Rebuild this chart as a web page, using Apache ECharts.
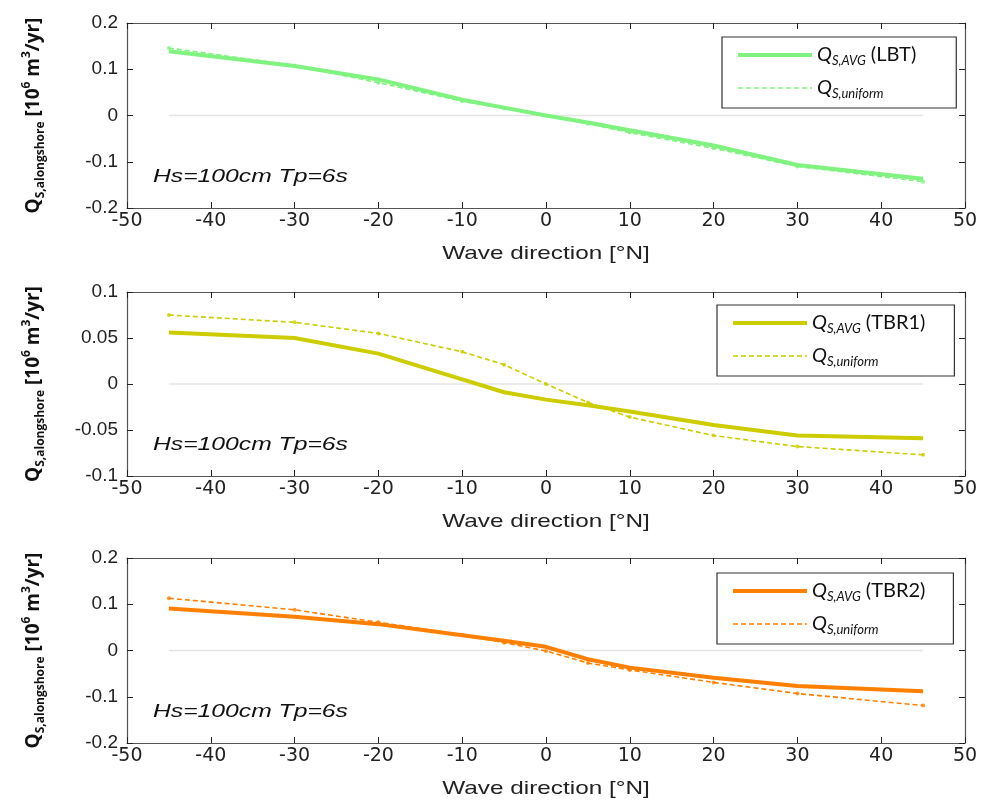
<!DOCTYPE html>
<html>
<head>
<meta charset="utf-8">
<script src="https://cdn.jsdelivr.net/npm/echarts@6/dist/echarts.min.js"></script>
<style>html,body{margin:0;padding:0;background:#fff}#c{width:981px;height:802px}</style>
</head>
<body>
<div id="c"></div>
<script>
// Wave directions [°N]
const angles = [-45, -30, -20, -10, -5, 0, 5, 10, 20, 30, 45];
// LBT
const lbtAvg = [0.139, 0.107, 0.078, 0.034, 0.017, 0.000, -0.015, -0.032, -0.065, -0.107, -0.137];
const lbtUni = [0.146, 0.108, 0.071, 0.031, 0.015, 0.000, -0.018, -0.037, -0.071, -0.110, -0.143];
// TBR1
const tbr1Avg = [0.056, 0.050, 0.033, 0.005, -0.009, -0.017, -0.023, -0.030, -0.0445, -0.056, -0.059];
const tbr1Uni = [0.075, 0.067, 0.055, 0.035, 0.021, 0.000, -0.020, -0.036, -0.056, -0.068, -0.077];
// TBR2
const tbr2Avg = [0.091, 0.073, 0.057, 0.033, 0.021, 0.008, -0.019, -0.037, -0.059, -0.077, -0.088];
const tbr2Uni = [0.113, 0.088, 0.061, 0.034, 0.017, -0.001, -0.027, -0.042, -0.069, -0.093, -0.119];
const zeroLine = [[-45, 0], [45, 0]];

const panels = [
  {tag: 'LBT', avg: lbtAvg, uni: lbtUni, color: '#80f280', yMin: -0.2, yMax: 0.2, yInt: 0.1, top: 23, h: 185, legLeft: 722, legTop: 37, padR: 40},
  {tag: 'TBR1', avg: tbr1Avg, uni: tbr1Uni, color: '#cccc00', yMin: -0.1, yMax: 0.1, yInt: 0.05, top: 292, h: 184, legLeft: 717, legTop: 305, padR: 29},
  {tag: 'TBR2', avg: tbr2Avg, uni: tbr2Uni, color: '#ff8000', yMin: -0.2, yMax: 0.2, yInt: 0.1, top: 558, h: 185, legLeft: 717, legTop: 573, padR: 28}
];
const annotation = 'Hs=100cm Tp=6s';
const xName = 'Wave direction [°N]';

const FONT = 'Liberation Sans, Arial, sans-serif';
const XFONT = 'DejaVu Sans, sans-serif';
const axisCol = '#555';
const grid = [], xAxis = [], yAxis = [], series = [], legend = [], graphic = [];

const yNameRich = {
  q: {fontSize: 19, fontWeight: 'bold', fontFamily: 'Open Sans, sans-serif', color: '#111', verticalAlign: 'middle', lineHeight: 26},
  sub: {fontSize: 12, fontWeight: 'bold', fontFamily: 'Open Sans, sans-serif', color: '#111', verticalAlign: 'bottom', lineHeight: 26},
  sup: {fontSize: 12, fontWeight: 'bold', fontFamily: 'Open Sans, sans-serif', color: '#111', verticalAlign: 'top', lineHeight: 26}
};
const legRich = {
  q: {fontSize: 20, fontStyle: 'italic', fontFamily: 'Lato, sans-serif', color: '#111', verticalAlign: 'middle', lineHeight: 24},
  s: {fontSize: 13, fontStyle: 'italic', fontFamily: 'Lato, sans-serif', color: '#111', verticalAlign: 'bottom', lineHeight: 24},
  n: {fontSize: 20, fontFamily: 'Lato, sans-serif', color: '#111', verticalAlign: 'middle', lineHeight: 24}
};

panels.forEach((p, i) => {
  grid.push({left: 127, right: 16, top: p.top, height: p.h, containLabel: false});
  xAxis.push({
    type: 'value', gridIndex: i, min: -50, max: 50, interval: 10, position: 'bottom',
    axisLine: {show: true, onZero: false, lineStyle: {color: axisCol, width: 1.2}},
    axisTick: {show: true, inside: true, length: 6, lineStyle: {color: '#222'}},
    axisLabel: {color: '#222', fontSize: 19, fontFamily: XFONT, margin: 4},
    splitLine: {show: false}
  });
  xAxis.push({
    type: 'value', gridIndex: i, min: -50, max: 50, interval: 10, position: 'top',
    axisLine: {show: true, onZero: false, lineStyle: {color: axisCol, width: 1.2}},
    axisTick: {show: true, inside: true, length: 6, lineStyle: {color: '#222'}},
    axisLabel: {show: false}, splitLine: {show: false}
  });
  yAxis.push({
    type: 'value', gridIndex: i, min: p.yMin, max: p.yMax, interval: p.yInt, position: 'left',
    axisLine: {show: true, onZero: false, lineStyle: {color: axisCol, width: 1.2}},
    axisTick: {show: true, inside: true, length: 6, lineStyle: {color: '#222'}},
    axisLabel: {color: '#222', fontSize: 19, fontFamily: FONT, margin: 9},
    splitLine: {show: false},
    name: '{q|Q}{sub|S,alongshore}{q| [10}{sup|6}{q| m}{sup|3}{q|/yr]}',
    nameLocation: 'middle', nameGap: 80, nameRotate: 90,
    nameTextStyle: {rich: yNameRich}
  });
  yAxis.push({
    type: 'value', gridIndex: i, min: p.yMin, max: p.yMax, interval: p.yInt, position: 'right',
    axisLine: {show: true, onZero: false, lineStyle: {color: axisCol, width: 1.2}},
    axisTick: {show: true, inside: true, length: 6, lineStyle: {color: '#222'}},
    axisLabel: {show: false}, splitLine: {show: false}
  });

  const nAvg = 'avg' + i, nUni = 'uni' + i;
  series.push({
    type: 'line', xAxisIndex: 2 * i, yAxisIndex: 2 * i, data: zeroLine, symbol: 'none', silent: true,
    lineStyle: {color: '#e4e4e4', width: 1.5}, z: 1
  });
  series.push({
    name: nUni, type: 'line', xAxisIndex: 2 * i, yAxisIndex: 2 * i,
    data: angles.map((a, k) => [a, p.uni[k]]), symbol: 'none',
    lineStyle: {color: p.color, width: 1.6, type: [5, 3]}, itemStyle: {color: p.color}, z: 3
  });
  series.push({
    type: 'scatter', xAxisIndex: 2 * i, yAxisIndex: 2 * i,
    data: angles.map((a, k) => [a, p.uni[k]]), symbol: 'circle', symbolSize: 4,
    itemStyle: {color: p.color}, silent: true, z: 3
  });
  series.push({
    name: nAvg, type: 'line', xAxisIndex: 2 * i, yAxisIndex: 2 * i,
    data: angles.map((a, k) => [a, p.avg[k]]), symbol: 'none',
    lineStyle: {color: p.color, width: 4}, itemStyle: {color: p.color}, z: 4
  });

  legend.push({
    data: [
      {name: nAvg, lineStyle: {width: 4, color: p.color, type: 'solid'}},
      {name: nUni, lineStyle: {width: 1.6, color: p.color, type: [5, 3]}}
    ],
    orient: 'vertical', left: p.legLeft, top: p.legTop,
    itemWidth: 74, itemHeight: 14, itemGap: 11, padding: [8, p.padR, 8, 14],
    borderColor: '#333', borderWidth: 1.2, backgroundColor: '#fff',
    selectedMode: false,
    itemStyle: {opacity: 0},
    formatter: name => name === nAvg ? '{q|Q}{s|S,AVG}{n| (' + p.tag + ')}' : '{q|Q}{s|S,uniform}',
    textStyle: {rich: legRich, padding: [0, 0, 0, 0]}
  });

  // x-axis name (drawn horizontally stretched like the reference)
  graphic.push({
    type: 'text', x: 546, y: p.top + p.h + 46, scaleX: 1.28,
    style: {text: xName, fontSize: 19, fontFamily: FONT, fill: '#222', align: 'center', verticalAlign: 'middle'}
  });
  graphic.push({
    type: 'text', x: 153, y: p.top + p.h - 31, scaleX: 1.3,
    style: {text: annotation, fontSize: 19, fontStyle: 'italic', fontFamily: FONT, fill: '#111', align: 'left', verticalAlign: 'middle'}
  });
});

const chart = echarts.init(document.getElementById('c'), null, {renderer: 'canvas'});
chart.setOption({animation: false, grid, xAxis, yAxis, series, legend, graphic});
</script>
</body>
</html>
